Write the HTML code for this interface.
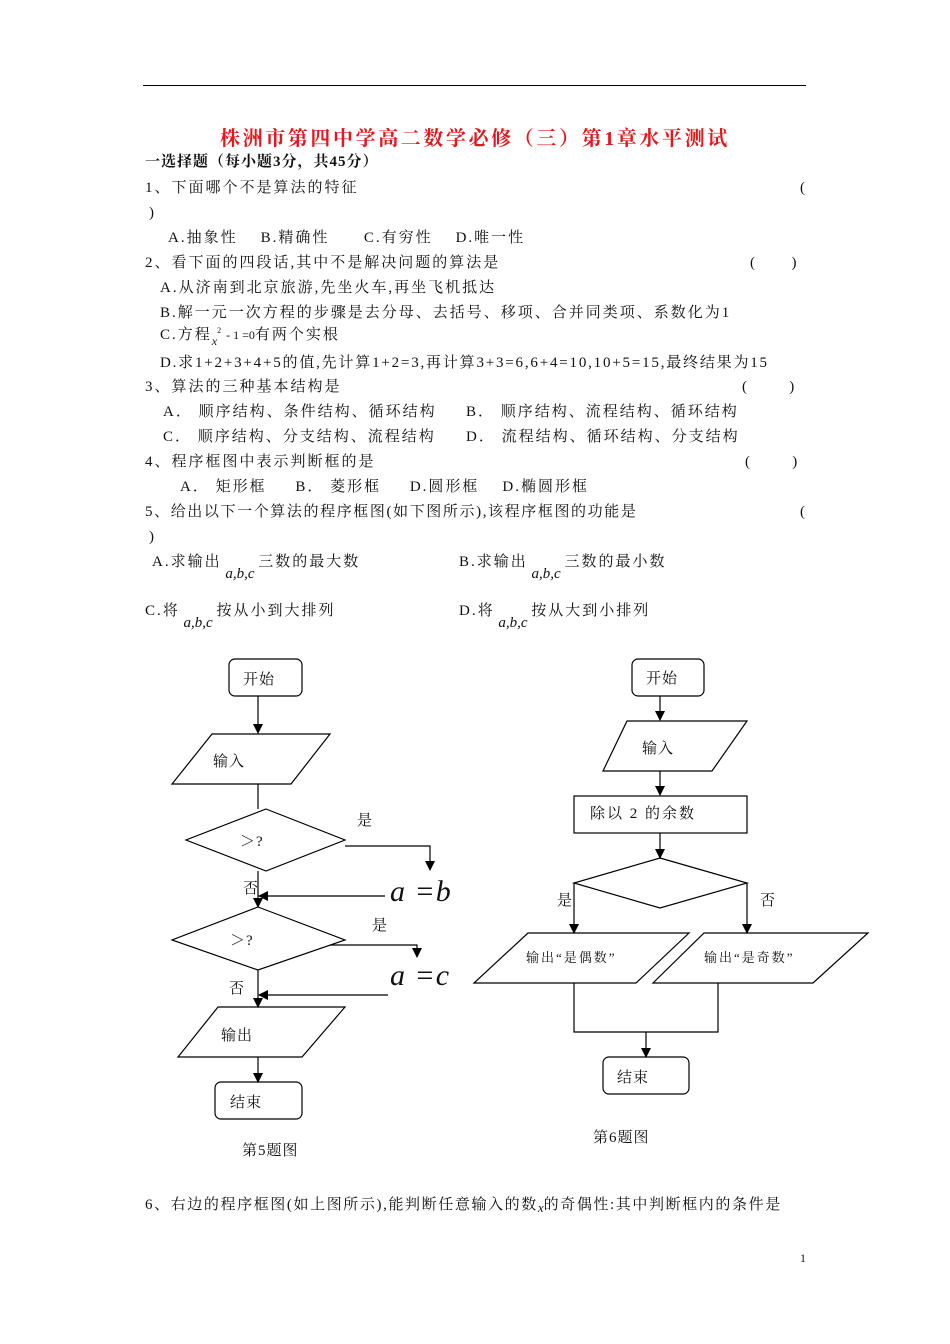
<!DOCTYPE html>
<html><head><meta charset="utf-8">
<style>
body{margin:0;background:#fff;}
#p{position:relative;width:950px;height:1344px;overflow:hidden;font-family:"Liberation Serif","Noto Serif CJK SC",serif;font-size:15px;color:#111;}
.t{position:absolute;white-space:nowrap;line-height:1;letter-spacing:2px;}
.i{font-style:italic;font-family:"Liberation Serif",serif;letter-spacing:0;}
svg{position:absolute;left:0;top:0;}
svg text{font-family:"Liberation Serif","Noto Serif CJK SC",serif;font-size:15px;fill:#111;letter-spacing:1px;}
</style></head><body><div id="p">
<div style="position:absolute;left:143px;top:85px;width:663px;height:1px;background:#000"></div>
<div class="t" style="left:220px;top:129px;font-size:20px;font-weight:bold;color:#e0191e;letter-spacing:2.6px">株洲市第四中学高二数学必修（三）第1章水平测试</div>
<div class="t" style="left:145px;top:155px;font-weight:bold;letter-spacing:1px">一选择题（每小题3分，共45分）</div>
<div class="t" style="left:145px;top:181px">1、下面哪个不是算法的特征</div>
<div class="t" style="left:800px;top:181px">(</div>
<div class="t" style="left:149px;top:206px">)</div>
<div class="t" style="left:168px;top:231px">A.抽象性&nbsp;&nbsp;&nbsp;&nbsp;B.精确性&nbsp;&nbsp;&nbsp;&nbsp;&nbsp;&nbsp;C.有穷性&nbsp;&nbsp;&nbsp;&nbsp;D.唯一性</div>
<div class="t" style="left:145px;top:256px">2、看下面的四段话,其中不是解决问题的算法是</div>
<div class="t" style="left:750px;top:256px">(&nbsp;&nbsp;&nbsp;&nbsp;&nbsp;&nbsp;)</div>
<div class="t" style="left:160px;top:281px">A.从济南到北京旅游,先坐火车,再坐飞机抵达</div>
<div class="t" style="left:160px;top:306px">B.解一元一次方程的步骤是去分母、去括号、移项、合并同类项、系数化为1</div>
<div class="t" style="left:160px;top:327px">C.方程<span class="i" style="font-size:12px;position:relative;top:6px">x</span><sup style="font-size:8px">2</sup><span style="font-size:12px;letter-spacing:0"> - 1 =0</span>有两个实根</div>
<div class="t" style="left:160px;top:356px;letter-spacing:1.8px">D.求1+2+3+4+5的值,先计算1+2=3,再计算3+3=6,6+4=10,10+5=15,最终结果为15</div>
<div class="t" style="left:145px;top:380px">3、算法的三种基本结构是</div>
<div class="t" style="left:742px;top:380px">(&nbsp;&nbsp;&nbsp;&nbsp;&nbsp;&nbsp;&nbsp;)</div>
<div class="t" style="left:163px;top:405px">A． 顺序结构、条件结构、循环结构</div>
<div class="t" style="left:466px;top:405px">B． 顺序结构、流程结构、循环结构</div>
<div class="t" style="left:163px;top:430px">C． 顺序结构、分支结构、流程结构</div>
<div class="t" style="left:466px;top:430px">D． 流程结构、循环结构、分支结构</div>
<div class="t" style="left:145px;top:455px">4、程序框图中表示判断框的是</div>
<div class="t" style="left:745px;top:455px">(&nbsp;&nbsp;&nbsp;&nbsp;&nbsp;&nbsp;&nbsp;)</div>
<div class="t" style="left:180px;top:480px">A． 矩形框&nbsp;&nbsp;&nbsp;&nbsp;&nbsp;B． 菱形框&nbsp;&nbsp;&nbsp;&nbsp;&nbsp;D.圆形框&nbsp;&nbsp;&nbsp;&nbsp;D.椭圆形框</div>
<div class="t" style="left:145px;top:505px;letter-spacing:1.6px">5、给出以下一个算法的程序框图(如下图所示),该程序框图的功能是</div>
<div class="t" style="left:800px;top:505px">(</div>
<div class="t" style="left:149px;top:530px">)</div>
<div class="t" style="left:152px;top:555px">A.求输出<span class="i" style="position:relative;top:12px">&nbsp;a,b,c&nbsp;</span>三数的最大数</div>
<div class="t" style="left:459px;top:555px">B.求输出<span class="i" style="position:relative;top:12px">&nbsp;a,b,c&nbsp;</span>三数的最小数</div>
<div class="t" style="left:145px;top:604px">C.将<span class="i" style="position:relative;top:12px">&nbsp;a,b,c&nbsp;</span>按从小到大排列</div>
<div class="t" style="left:459px;top:604px">D.将<span class="i" style="position:relative;top:12px">&nbsp;a,b,c&nbsp;</span>按从大到小排列</div>

<svg width="950" height="1344" viewBox="0 0 950 1344">
<defs><marker id="a" markerWidth="10" markerHeight="10" refX="9" refY="5" orient="auto" markerUnits="userSpaceOnUse"><path d="M0,0 L10,5 L0,10 z" fill="#000"/></marker></defs>
<g fill="none" stroke="#000" stroke-width="1.2">
<rect x="229" y="659" width="73" height="37" rx="6"/>
<line x1="258" y1="696" x2="258" y2="733" marker-end="url(#a)"/>
<polygon points="212,734 330,734 291,784 172,784"/>
<line x1="258" y1="784" x2="258" y2="809"/>
<polygon points="266,809 345,840 266,871 186,840"/>
<polyline points="345,846 430,846 430,870" marker-end="url(#a)"/>
<line x1="258" y1="871" x2="258" y2="907" marker-end="url(#a)"/>
<line x1="385" y1="896" x2="259" y2="896" marker-end="url(#a)"/>
<polygon points="258,907 345,940 258,970 172,940"/>
<polyline points="330,945 417,945 417,957" marker-end="url(#a)"/>
<line x1="258" y1="970" x2="258" y2="1007" marker-end="url(#a)"/>
<line x1="388" y1="995" x2="259" y2="995" marker-end="url(#a)"/>
<polygon points="218,1007 345,1007 302,1057 178,1057"/>
<line x1="258" y1="1057" x2="258" y2="1082" marker-end="url(#a)"/>
<rect x="215" y="1082" width="87" height="37" rx="6"/>
<rect x="632" y="659" width="72" height="37" rx="6"/>
<line x1="660" y1="696" x2="660" y2="720" marker-end="url(#a)"/>
<polygon points="627,721 747,721 712,771 603,771"/>
<line x1="660" y1="771" x2="660" y2="795" marker-end="url(#a)"/>
<rect x="574" y="796" width="173" height="37"/>
<line x1="660" y1="833" x2="660" y2="858" marker-end="url(#a)"/>
<polygon points="660,858 747,883 660,908 574,883"/>
<line x1="574" y1="883" x2="574" y2="933" marker-end="url(#a)"/>
<line x1="747" y1="883" x2="747" y2="933" marker-end="url(#a)"/>
<polygon points="528,933 689,933 636,983 474,983"/>
<polygon points="704,933 868,933 813,983 653,983"/>
<polyline points="574,983 574,1032 718,1032 718,983"/>
<line x1="646" y1="1032" x2="646" y2="1057" marker-end="url(#a)"/>
<rect x="603" y="1057" width="86" height="37" rx="6"/>
</g>
<text x="243" y="684">开始</text>
<text x="213" y="766">输入</text>
<text x="240" y="846">＞?</text>
<text x="357" y="825">是</text>
<text x="243" y="893">否</text>
<text x="390" y="901" style="font-size:30px;font-style:italic">a =b</text>
<text x="230" y="945">＞?</text>
<text x="372" y="930">是</text>
<text x="229" y="993">否</text>
<text x="390" y="985" style="font-size:30px;font-style:italic">a =c</text>
<text x="221" y="1040">输出</text>
<text x="230" y="1107">结束</text>
<text x="242" y="1155">第5题图</text>
<text x="646" y="683">开始</text>
<text x="642" y="753">输入</text>
<text x="590" y="818" style="letter-spacing:2px">除以 2 的余数</text>
<text x="557" y="905">是</text>
<text x="760" y="905">否</text>
<text x="526" y="962" style="font-size:13px;letter-spacing:2px">输出“是偶数”</text>
<text x="704" y="962" style="font-size:13px;letter-spacing:2px">输出“是奇数”</text>
<text x="617" y="1082">结束</text>
<text x="593" y="1142">第6题图</text>
</svg>
<div class="t" style="left:145px;top:1198px;letter-spacing:1.6px">6、右边的程序框图(如上图所示),能判断任意输入的数<span class="i" style="font-size:13px;position:relative;top:3px">x</span>的奇偶性:其中判断框内的条件是</div>
<div class="t" style="left:800px;top:1252px;font-size:12px">1</div>
</div></body></html>
